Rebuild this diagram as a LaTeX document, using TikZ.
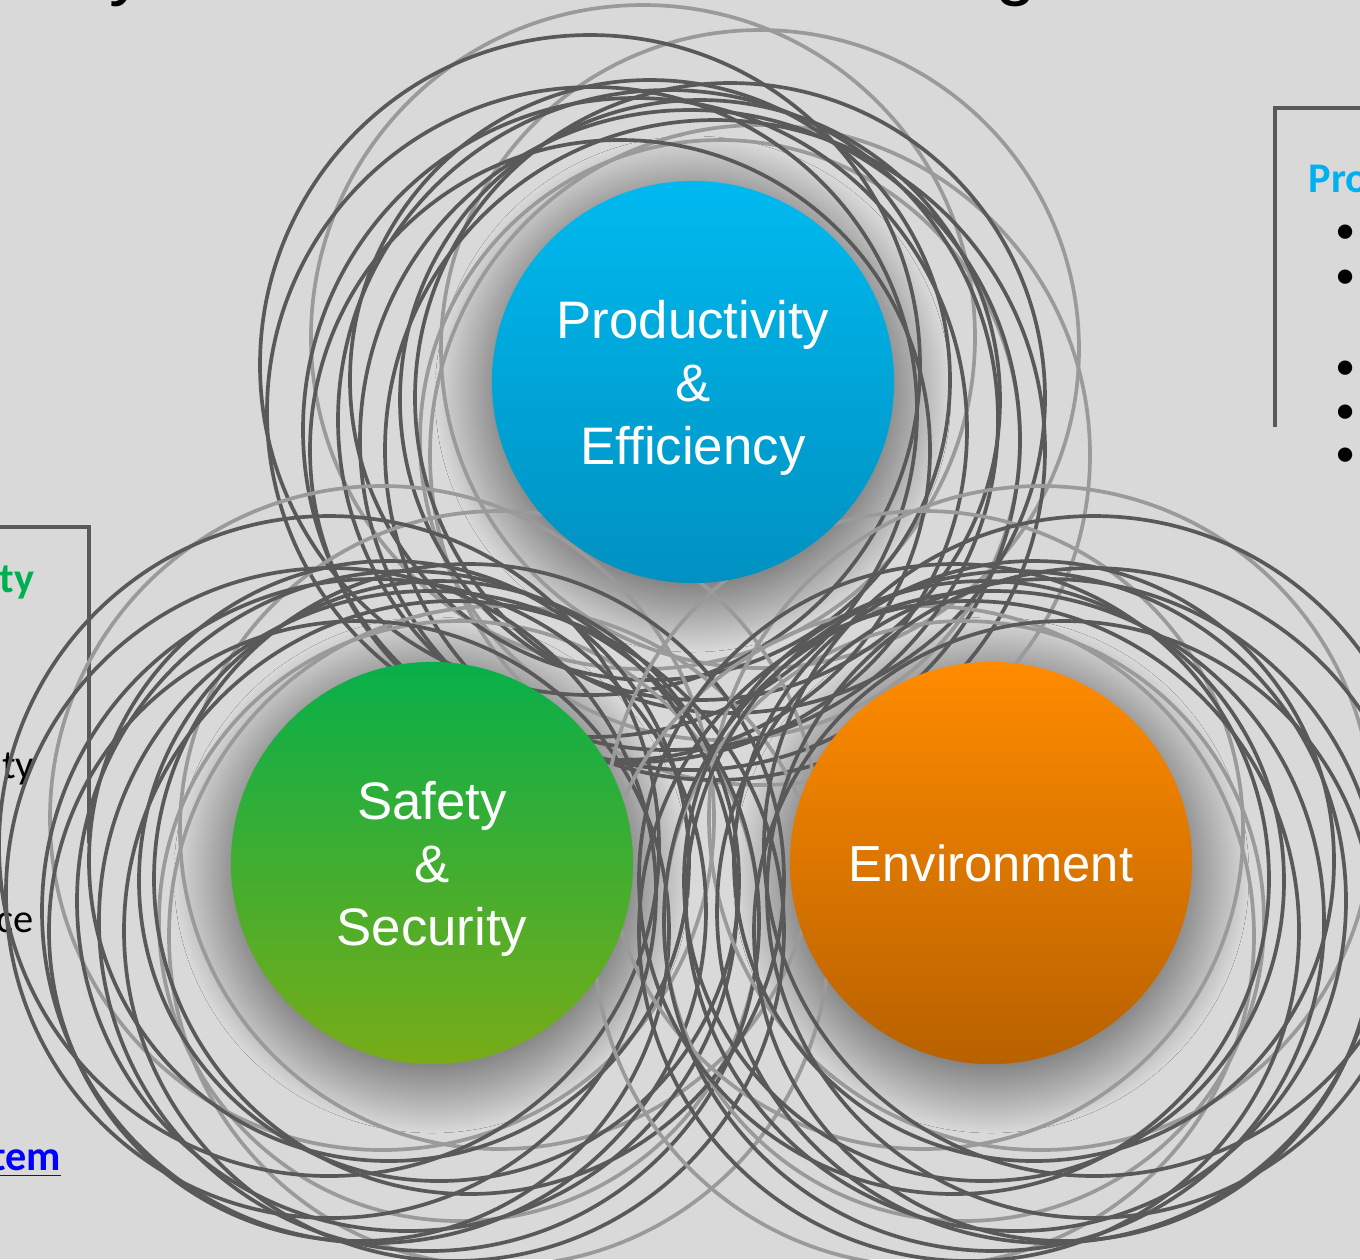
\documentclass[tikz,border=0pt]{standalone}
\usepackage{fontspec}
\setmainfont{Liberation Sans}
\newfontfamily\slidefont{Carlito}
\definecolor{slidebg}{HTML}{D9D9D9}
\definecolor{ringgray}{HTML}{595959}
\definecolor{ringpale}{HTML}{9A9A9A}
\definecolor{shadowgray}{HTML}{828282}
\definecolor{prodtop}{HTML}{00B9EF}
\definecolor{prodbot}{HTML}{0091C1}
\definecolor{safetop}{HTML}{08AF4A}
\definecolor{safebot}{HTML}{78AC17}
\definecolor{envtop}{HTML}{FF8B00}
\definecolor{envbot}{HTML}{B86100}
\definecolor{headgreen}{HTML}{00B050}
\definecolor{headblue}{HTML}{00B0F0}
\definecolor{linkblue}{HTML}{0000FF}
\pgfdeclareradialshading{bubbleshadow}{\pgfpoint{0bp}{0bp}}{%
  color(0bp)=(shadowgray);color(18bp)=(shadowgray);%
  color(20.5bp)=(shadowgray!65!slidebg);color(25bp)=(slidebg);color(50bp)=(slidebg)}
\tikzset{%
  ring/.style       = {draw=ringgray, line width=1.05pt},%
  palering/.style   = {draw=ringpale, line width=1.05pt},%
  bubble/.style     = {circle, inner sep=0pt, minimum size=4.02cm},%
  bubbletext/.style = {align=center, text=white, inner sep=0pt,%
                       font=\fontsize{15}{17.9}\selectfont},%
  shadowdisc/.style = {shading=bubbleshadow},%
  panelframe/.style = {draw=ringgray, line width=1.3pt},%
  sidetext/.style   = {anchor=base east, inner sep=0pt,%
                       font=\slidefont\fontsize{11.5}{14}\selectfont},%
  sidehead/.style   = {sidetext, font=\slidefont\bfseries\fontsize{12}{14}\selectfont}%
}
\def\darkrings{-103/-17/330, -101/30/325, -58/48/332, -25/38/330, 7/18/300,
  -3/58/330, 22/68/330, 37/16/315, -43/-2/300, -73/68/310}
\def\palerings{-50/-45/332, 67/-33/319, 27/58/300, 67/73/330}
\begin{document}
\begin{tikzpicture}[x=0.01cm,y=-0.01cm]
	\clip (0,0) rectangle (1360,1259);
	\fill[slidebg] (0,0) rectangle (1360,1259);
	\node[anchor=base, font=\fontsize{21}{26}\selectfont] (ttly) at (128,-9) {y};
	\node[anchor=base, font=\fontsize{21}{26}\selectfont] (ttlg) at (1016,-9) {g};
	\draw[panelframe] (0,527) -| (89,843);
	\draw[panelframe] (1360,108) -| (1275,427);
	\node[sidehead, text=headgreen] (lhead) at (35,592) {ty};
	\node[sidetext] (lline1) at (35,778) {ty};
	\node[sidetext] (lline2) at (34,932) {ce};
	\node[sidehead, text=linkblue] (llink) at (62,1170) {\underline{tem}};
	\node[sidehead, anchor=base west, text=headblue] (rhead) at (1308,192) {Pro};
	\foreach \y [count=\i] in {233,278,369,413,456}
		\node[sidetext, anchor=base] (bul\i) at (1346,\y+10) {•};
	\foreach \cx/\cy in {693/382, 432/863, 991/863}
		\fill[shadowdisc] (\cx,\cy+12) circle (258);
	\foreach \cx/\cy/\flip in {693/382/1, 432/863/1, 991/863/-1}{
		\begin{scope}[shift={(\cx,\cy)}, xscale=\flip]
			\foreach \dx/\dy/\r in \palerings \draw[palering] (\dx,\dy) circle (\r);
			\foreach \dx/\dy/\r in \darkrings \draw[ring] (\dx,\dy) circle (\r);
		\end{scope}}
	\node[bubble, top color=prodtop, bottom color=prodbot] (prod) at (693,382) {};
	\node[bubble, top color=safetop, bottom color=safebot] (safe) at (432,863) {};
	\node[bubble, top color=envtop, bottom color=envbot] (env) at (991,863) {};
	\node[bubbletext, yshift=-0.06cm] (prodtext) at (prod) {Productivity\\\&\\Efficiency};
	\node[bubbletext, yshift=-0.06cm] (safetext) at (safe) {Safety\\\&\\Security};
	\node[bubbletext, font=\fontsize{14.4}{17}\selectfont] (envtext) at (env) {Environment};
\end{tikzpicture}
\end{document}
